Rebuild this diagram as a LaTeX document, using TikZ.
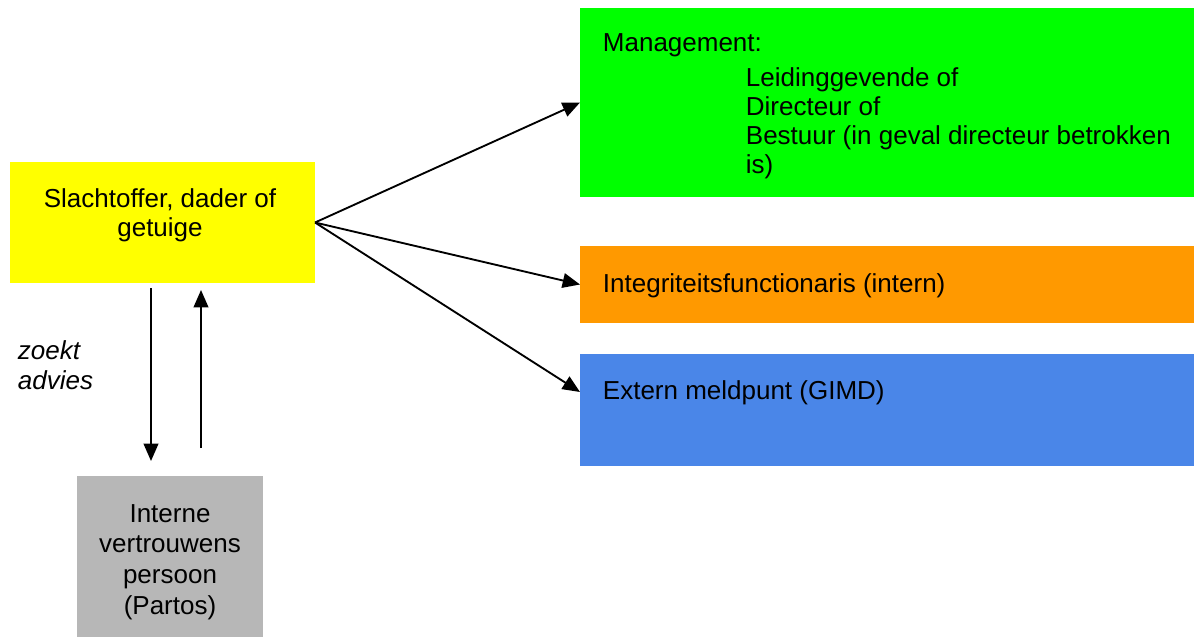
\documentclass[tikz,border=0pt]{standalone}
\usepackage{fontspec}
\setmainfont{Liberation Sans}
\usetikzlibrary{arrows.meta,positioning}

\definecolor{victimyellow}{HTML}{FFFF00}
\definecolor{mgmtgreen}{HTML}{00FF00}
\definecolor{intorange}{HTML}{FF9900}
\definecolor{extblue}{HTML}{4A86E8}
\definecolor{vpgray}{HTML}{B7B7B7}

\begin{document}
\begin{tikzpicture}[x=0.75pt,y=-0.75pt,->,>={Triangle[length=13pt,width=11pt]},
                    line width=1.4pt,font=\fontsize{19.5}{21.75}\selectfont]
  \tikzstyle{box}=[draw=none,inner sep=0pt,outer sep=0pt,anchor=north west]
  \tikzstyle{boxtext}=[inner sep=0pt,anchor=base west,align=left]

  \useasboundingbox (0,0) rectangle (1194,637);

  % boxes
  \node[box,fill=victimyellow,minimum width=228.75pt,minimum height=90.75pt] (victim) at (10,162) {};
  \node[box,fill=mgmtgreen,minimum width=460.5pt,minimum height=141.75pt]    (mgmt)   at (580,8)   {};
  \node[box,fill=intorange,minimum width=460.5pt,minimum height=57.75pt]     (integ)  at (580,246) {};
  \node[box,fill=extblue,minimum width=460.5pt,minimum height=84pt]          (extern) at (580,354) {};
  \node[box,fill=vpgray,minimum width=139.5pt,minimum height=120.75pt]       (vp)     at (77,476)  {};

  % texts (base = last line)
  \node[boxtext,anchor=base,align=center] (victimtxt) at (160,236) {Slachtoffer, dader of\\getuige};
  \node[boxtext] (mgmttxt)  at (602,51)  {Management:};
  \node[boxtext] (mgmtlist) at (745,173) {Leidinggevende of\\Directeur of\\Bestuur (in geval directeur betrokken\\is)};
  \node[boxtext] (integtxt) at (602,292) {Integriteitsfunctionaris (intern)};
  \node[boxtext] (externtxt) at (602,399) {Extern meldpunt (GIMD)};
  \node[boxtext,anchor=base,align=center,font=\fontsize{19.5}{23}\selectfont] (vptxt) at (170,614) {Interne\\vertrouwens\\persoon\\(Partos)};
  \node[boxtext,font=\fontsize{19.5}{22.5}\selectfont\itshape] (advice) at (17,389) {zoekt\\advies};

  \coordinate (externin) at (580,392);
  \coordinate (downfrom) at (151,288);
  \coordinate (downto)   at (151,461);
  \coordinate (upfrom)   at (201,448);
  \coordinate (upto)     at (201,290);

  \path (victim.east) edge (mgmt.west)
                      edge (integ.west)
                      edge (externin)
        (downfrom)    edge (downto)
        (upfrom)      edge (upto);
\end{tikzpicture}
\end{document}
